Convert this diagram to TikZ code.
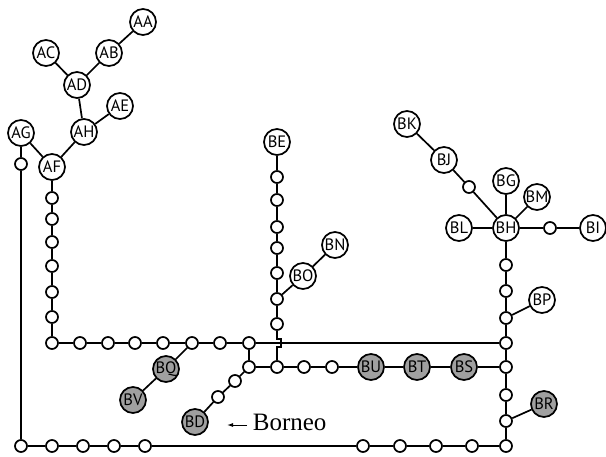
\documentclass[tikz,border=0pt]{standalone}
\usepackage{fontspec}
\setmainfont{Liberation Serif}
\setsansfont{PT Sans}
\usepackage{tikz}
\usetikzlibrary{arrows.meta, calc, positioning}
\definecolor{islandgray}{RGB}{160,160,160}

\begin{document}
\begin{tikzpicture}[x=1pt, y=-1pt, line width=1.7pt,
    taxon/.style={circle, draw, fill=white, minimum size=26pt, inner sep=0pt,
                  font=\sffamily\fontsize{16.5}{16.5}\selectfont},
    island/.style={taxon, fill=islandgray},
    dot/.style={circle, draw, fill=white, minimum size=12pt, inner sep=0pt}]
            \useasboundingbox (0,0) rectangle (606,456);

            % Top left tree
            \node[taxon] (AA) at (143,22) {AA};
            \node[taxon] (AB) at (109,53) {AB};
            \node[taxon] (AC) at (46,53) {AC};
            \node[taxon] (AD) at (77,85) {AD};
            \node[taxon] (AE) at (120,106) {AE};
            \node[taxon] (AH) at (84,132) {AH};
            \node[taxon] (AG) at (21,133) {AG};
            \node[taxon] (AF) at (52,167) {AF};

            % Middle branch
            \node[taxon] (BE) at (277,142) {BE};
            \node[taxon] (BO) at (303,276) {BO};
            \node[taxon] (BN) at (335,245) {BN};

            % Right tree
            \node[taxon] (BK) at (407,124) {BK};
            \node[taxon] (BJ) at (444,160) {BJ};
            \node[taxon] (BG) at (506,181) {BG};
            \node[taxon] (BM) at (537,197) {BM};
            \node[taxon] (BL) at (459,228) {BL};
            \node[taxon] (BH) at (506,228) {BH};
            \node[taxon] (BI) at (593,228) {BI};
            \node[taxon] (BP) at (542,300) {BP};

            % Island taxa
            \node[island] (BQ) at (166,369) {BQ};
            \node[island] (BV) at (133,400) {BV};
            \node[island] (BD) at (195,422) {BD};
            \node[island] (BU) at (371,367) {BU};
            \node[island] (BT) at (417,367) {BT};
            \node[island] (BS) at (464,367) {BS};
            \node[island] (BR) at (544,404) {BR};

            % Small nodes
            \node[dot] (g1) at (21,164) {};
            \foreach \i/\y in {1/198,2/219,3/242,4/266,5/292,6/317,7/343}
                \node[dot] (f\i) at (52,\y) {};
            \foreach \i/\x in {1/80,2/108,3/135,4/163,5/192,6/220,7/249}
                \node[dot] (r\i) at (\x,343) {};
            \foreach \i/\y in {1/177,2/200,3/227,4/248,5/273,6/299,7/324,8/367}
                \node[dot] (e\i) at (277,\y) {};
            \foreach \i/\y in {1/265,2/291,3/318,4/343,5/367,6/395,7/421,8/446}
                \node[dot] (k\i) at (506,\y) {};
            \foreach \i/\x in {0/21,1/52,2/83,3/114,4/145,5/363,6/400,7/436,8/472}
                \node[dot] (b\i) at (\x,446) {};
            \node[dot] (j0) at (249,367) {};
            \node[dot] (d1) at (235,381) {};
            \node[dot] (d2) at (218,397) {};
            \node[dot] (u1) at (304,367) {};
            \node[dot] (u2) at (332,367) {};
            \node[dot] (h1) at (550,228) {};
            \node[dot] (h2) at (469,187) {};

            % Draw the edges
            \draw (AA) -- (AB) -- (AD) -- (AC);
            \draw (AD) -- (AH) -- (AE);
            \draw (AH) -- (AF) -- (AG);
            \draw (AG) -- (g1) -- (b0) -- (b1) -- (b2) -- (b3) -- (b4) -- (b5)
                  -- (b6) -- (b7) -- (b8) -- (k8);
            \draw (AF) -- (f1) -- (f2) -- (f3) -- (f4) -- (f5) -- (f6) -- (f7)
                  -- (r1) -- (r2) -- (r3) -- (r4) -- (r5) -- (r6) -- (r7) -- (k4);
            \draw (r5) -- (BQ) -- (BV);
            \draw (r7) -- (j0) -- (d1) -- (d2) -- (BD);
            \draw (j0) -- (e8) -- (u1) -- (u2) -- (BU) -- (BT) -- (BS) -- (k5);
            \draw (BE) -- (e1) -- (e2) -- (e3) -- (e4) -- (e5) -- (e6) -- (e7);
            \draw (e6) -- (BO) -- (BN);
            \draw (e7) -- (277,339) -- (281,339) -- (281,347) -- (277,347) -- (e8);
            \draw (BH) -- (k1) -- (k2) -- (k3) -- (k4) -- (k5) -- (k6) -- (k7) -- (k8);
            \draw (k3) -- (BP);
            \draw (k7) -- (BR);
            \draw (BL) -- (BH) -- (h1) -- (BI);
            \draw (BG) -- (BH) -- (BM);
            \draw (BH) -- (h2) -- (BJ) -- (BK);

            % Borneo label
            \node[anchor=base west, inner sep=0pt, font=\fontsize{25}{25}\selectfont]
                (borneo) at (252,430) {Borneo};
            \coordinate (arrowtail) at (247,425);
            \coordinate (arrowtip) at (227,425);
            \draw[-{Latex[length=6pt,width=4pt]}, line width=1pt] (arrowtail) -- (arrowtip);
          \end{tikzpicture}
\end{document}
